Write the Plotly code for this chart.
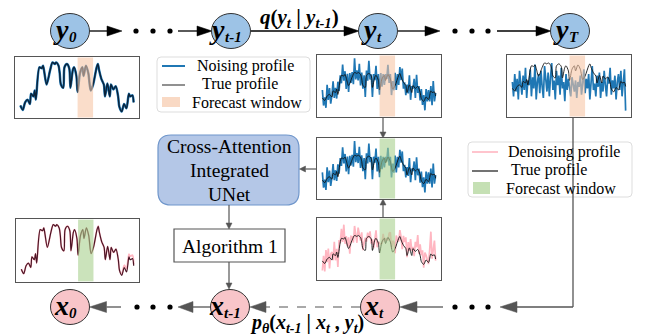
import plotly.graph_objects as go

# ---------------- data ----------------
hours_key = [0, 2, 4, 6, 8, 9, 11, 12, 13, 16, 18, 19, 20, 22, 25, 27, 29, 30, 32, 33,
             34, 36, 37, 39, 41, 42, 44, 45, 47, 48, 50, 52, 53, 55, 57, 59, 61, 64, 65, 66,
             68, 70, 71, 73, 75, 76, 78, 80, 82, 83, 85, 87, 89, 91, 92, 94, 95]
true_profile = [.15, .07, .21, .26, .18, .37, .32, .43, .26, .86, .84, .89, .78, .54, .81, .95, .92, .95, .89, .75,
                .54, .48, .86, .92, .84, .48, .81, .86, .70, .40, .75, .86, .70, .89, .75, .43, .54, .86, .92, .81,
                .64, .54, .32, .56, .32, .54, .45, .51, .32, .13, .04, .18, .10, .37, .32, .34, .21]
denoised_final = [.15, .07, .21, .26, .18, .37, .32, .43, .26, .86, .84, .89, .78, .54, .81, .95, .92, .95, .89, .75,
                  .54, .48, .86, .92, .84, .48, .81, .86, .70, .40, .75, .86, .70, .89, .75, .43, .54, .86, .92, .81,
                  .64, .54, .32, .56, .32, .54, .45, .51, .32, .13, .06, .22, .16, .42, .38, .40, .24]

hours = list(range(96))
noising_t = [.40, -.09, .17, -.16, .56, .09, .46, -.03, .23, .67, .15, .47, .13, .66, .36, .86, .61, 1.20, .69, .99,
             .43, .91, .34, .93, .62, .96, .58, 1.40, .73, 1.02, .70, 1.22, .54, .95, .44, .86, .18, 1.01, .69, 1.32,
             .73, .89, .18, .90, .71, 1.16, .43, .90, .25, .93, .50, .90, .56, .90, .75, 1.19, .62, .90, .24, .68,
             .39, .94, .40, .90, .56, 1.12, .71, 1.07, .44, .64, .24, .57, .29, .86, .09, .52, .44, .75, .15, .88,
             .31, .52, .07, .43, -.07, .24, -.24, .43, .04, .40, .04, .52, -.08, .68, .04, .31]
noising_T = [.35, -.1, .6, .05, .45, -.2, .7, .2, -.05, .55, .1, .8, -.15, .4, .25, .75, -.1, .5, .15, .9,
             -.2, .35, .6, 0, .7, .2, -.15, .85, .3, .05, .65, -.1, .5, .95, .1, .4, -.2, .7, .25, .55,
             -.05, .8, .15, .35, -.25, .6, .1, .45, .2, -.1, .5, .3, .05, .4, -.15, .35, .2, .55, -.05, .3,
             .75, 0, .45, .15, .6, -.2, .4, .85, .1, .3, -.1, .55, .2, .65, -.15, .35, .05, .7, .25, -.1,
             .5, .3, .8, -.05, .4, .15, .55, -.2, .35, .6, .1, .7, -.1, .45, .75, -.55]
denoising = [-.15, .31, -.18, .49, .11, .54, -.09, .37, .43, .17, .75, .17, .53, -.04, .81, .71, 1.16, .75, 1.29, .69,
             .93, .61, .89, .38, .92, .91, .73, 1.25, .98, .72, 1.20, 1.02, .79, 1.05, .49, .71, .88, .76, 1.04, .87,
             1.08, .69, .83, .55, .91, 1.11, .58, .75, .70, .68, .70, 1.00, .76, .85, .85, .79, 1.02, 1.05, .54, .78,
             .74, .39, .95, .80, .76, 1.12, .91, .52, .94, .74, .89, .27, .74, .46, .84, .47, .59, .30, .75, .58,
             .96, .37, .67, .33, .48, -.06, .41, .33, .19, .05, .49, 1.07, .22, .63, .79, .16]
forecast_window = [48, 61]

# ---------------- styles ----------------
W, H = 646, 335
BLUE = "#1f77b4"
PINK = "#ffb6c1"
PEACH = "#f7c7a6"
GREEN = "#a9d08e"
GRAY = "#555555"
SERIF = "Liberation Serif"

fig = go.Figure()

fig.add_trace(go.Scatter(x=[0, W], y=[0, H], mode="markers", marker=dict(opacity=0),
                         hoverinfo="skip", showlegend=False, xaxis="x", yaxis="y"))
layout = dict(
    width=W, height=H, margin=dict(l=0, r=0, t=0, b=0),
    paper_bgcolor="white", plot_bgcolor="rgba(0,0,0,0)", showlegend=False,
    xaxis=dict(range=[0, W], domain=[0, 1], visible=False, fixedrange=True),
    yaxis=dict(range=[H, 0], domain=[0, 1], visible=False, fixedrange=True),
)

shapes = []
annotations = []

# ---------- mini plots ----------
def mini(idx, box, yrange, traces, wincolor):
    x0, y0, x1, y1 = box
    ax = dict(domain=[x0 / W, x1 / W], range=[-4.5, 99.5], showticklabels=False, showgrid=False,
              zeroline=False, showline=True, mirror=True, linecolor=GRAY, linewidth=1.2,
              ticks="", fixedrange=True, anchor=f"y{idx}")
    ay = dict(domain=[1 - y1 / H, 1 - y0 / H], range=yrange, showticklabels=False, showgrid=False,
              zeroline=False, showline=True, mirror=True, linecolor=GRAY, linewidth=1.2,
              ticks="", fixedrange=True, anchor=f"x{idx}")
    layout[f"xaxis{idx}"] = ax
    layout[f"yaxis{idx}"] = ay
    for (xs, ys, color, width, shape) in traces:
        fig.add_trace(go.Scatter(x=xs, y=ys, mode="lines",
                                 line=dict(color=color, width=width, shape=shape, smoothing=0.8),
                                 xaxis=f"x{idx}", yaxis=f"y{idx}", showlegend=False, hoverinfo="skip"))
    shapes.append(dict(type="rect", xref=f"x{idx}", yref=f"y{idx} domain",
                       x0=forecast_window[0], x1=forecast_window[1], y0=0.01, y1=0.99,
                       fillcolor=wincolor, opacity=0.6, line=dict(width=0), layer="above"))

mini(2, (15, 57, 139, 118), [-0.08, 1.05],
     [(hours_key, true_profile, BLUE, 2.5, "spline"), (hours_key, true_profile, "#0b2238", 1.4, "spline")], PEACH)
mini(3, (317, 55, 441, 117), [-0.45, 1.5],
     [(hours, noising_t, BLUE, 1.7, "linear"), (hours_key, true_profile, "#111111", 0.9, "spline")], PEACH)
mini(4, (507, 55, 631, 117), [-0.75, 1.2],
     [(hours, noising_T, BLUE, 1.7, "linear"), (hours_key, true_profile, "#111111", 0.9, "spline")], PEACH)
mini(5, (317, 138, 441, 199), [-0.45, 1.5],
     [(hours, noising_t, BLUE, 1.7, "linear"), (hours_key, true_profile, "#111111", 0.9, "spline")], GREEN)
mini(6, (317, 218, 441, 280), [-0.45, 1.5],
     [(hours, denoising, PINK, 1.7, "linear"), (hours_key, true_profile, "#111111", 0.9, "spline")], GREEN)
mini(7, (16, 219, 139, 282), [-0.08, 1.05],
     [(hours_key, denoised_final, PINK, 1.8, "spline"), (hours_key, true_profile, "#4a1525", 1.2, "spline")], GREEN)

# ---------- helpers ----------
def arrow(x0, y0, x1, y1, color="black", width=1.3, hl=15, hw=5, dash="solid"):
    dx, dy = x1 - x0, y1 - y0
    L = (dx * dx + dy * dy) ** 0.5
    ux, uy = dx / L, dy / L
    bx, by = x1 - hl * ux, y1 - hl * uy
    shapes.append(dict(type="line", xref="x", yref="y", x0=x0, y0=y0, x1=bx, y1=by,
                       line=dict(color=color, width=width, dash=dash)))
    px, py = -uy, ux
    path = (f"M {x1},{y1} L {bx + hw * px},{by + hw * py} "
            f"L {bx - hw * px},{by - hw * py} Z")
    shapes.append(dict(type="path", xref="x", yref="y", path=path, fillcolor=color,
                       line=dict(color=color, width=0.5)))

def dots(xs, y, color="black"):
    for x in xs:
        shapes.append(dict(type="circle", xref="x", yref="y", x0=x - 2.6, x1=x + 2.6,
                           y0=y - 2.6, y1=y + 2.6, fillcolor=color, line=dict(width=0)))

def node(cx, cy, fill, letter, sub):
    shapes.append(dict(type="circle", xref="x", yref="y", x0=cx - 19.5, x1=cx + 19.5,
                       y0=cy - 17.5, y1=cy + 17.5, fillcolor=fill, line=dict(color="#333333", width=1)))
    lw = 13.5
    sw = 6.0 * len(sub) if sub != "t-1" else 16
    join = cx - (lw + sw) / 2 + 8.5
    annotations.append(dict(x=join, y=cy - 2, xref="x", yref="y", text=f"<b><i>{letter}</i></b>",
                            showarrow=False, font=dict(family=SERIF, size=28, color="black"),
                            xanchor="right", yanchor="middle", borderpad=0, xshift=1))
    annotations.append(dict(x=join, y=cy + 6, xref="x", yref="y", text=f"<b><i>{sub}</i></b>",
                            showarrow=False, font=dict(family=SERIF, size=15, color="black"),
                            xanchor="left", yanchor="middle", borderpad=0, xshift=-1))

def text(x, y, s, size=15, anchor="left", color="black"):
    annotations.append(dict(x=x, y=y, xref="x", yref="y", text=s, showarrow=False,
                            font=dict(family=SERIF, size=size, color=color),
                            xanchor=anchor, yanchor="middle"))

def rrect(x0, y0, x1, y1, r, fill, line, lw=1):
    path = (f"M {x0 + r},{y0} L {x1 - r},{y0} Q {x1},{y0} {x1},{y0 + r} L {x1},{y1 - r} "
            f"Q {x1},{y1} {x1 - r},{y1} L {x0 + r},{y1} Q {x0},{y1} {x0},{y1 - r} "
            f"L {x0},{y0 + r} Q {x0},{y0} {x0 + r},{y0} Z")
    shapes.append(dict(type="path", xref="x", yref="y", path=path, fillcolor=fill,
                       line=dict(color=line, width=lw), layer="below"))

# ---------- top row (forward noising) ----------
arrow(89, 31, 122, 31)
dots([136, 153, 170], 31)
arrow(178, 31, 212, 31)
arrow(251, 31, 359, 31)
arrow(398, 31, 440, 31)
dots([455, 472, 488], 31)
arrow(497, 31, 551, 31)

node(70, 31, "#9dc3e6", "y", "0")
node(231, 31, "#9dc3e6", "y", "t-1")
node(378, 31, "#9dc3e6", "y", "t")
node(570, 31, "#9dc3e6", "y", "T")

text(299, 18, "<b><i>q</i>(<i>y<sub>t</sub></i> | <i>y<sub>t-1</sub></i>)</b>", size=21, anchor="center")

# ---------- middle connections ----------
arrow(383, 117, 383, 138, color=GRAY, width=1.2, hl=6, hw=3)
arrow(383, 218, 383, 199, color=GRAY, width=1.2, hl=6, hw=3)
arrow(317, 169, 299.5, 169, color=GRAY, width=1.2, hl=6, hw=3)
arrow(229, 205, 229, 229, color=GRAY, width=1.2, hl=6, hw=3)
arrow(229, 262, 229, 289, color=GRAY, width=1.2, hl=6, hw=3)

rrect(158, 135, 299, 205, 13, "#b4c7e7", "#6f96cb", 1.2)
text(229, 146, "Cross-Attention", size=19.5, anchor="center")
text(229, 170, "Integrated", size=19.5, anchor="center")
text(229, 194, "UNet", size=19.5, anchor="center")

shapes.append(dict(type="rect", xref="x", yref="y", x0=174, x1=285, y0=229, y1=262,
                   fillcolor="white", line=dict(color=GRAY, width=1.2)))
text(229.5, 246, "Algorithm 1", size=19.5, anchor="center")

# ---------- bottom row (reverse denoising) ----------
shapes.append(dict(type="line", xref="x", yref="y", x0=573, y0=117, x1=573, y1=307,
                   line=dict(color=GRAY, width=1.3)))
arrow(573, 307, 500, 307, color=GRAY, width=1.3, hl=17, hw=5.5)
dots([455, 472, 488], 307)
arrow(443, 307, 400, 307, color=GRAY, width=1.3, hl=17, hw=5.5)
arrow(360, 307, 250, 307, color=GRAY, width=1.2, hl=16, hw=5.5, dash="dash")
arrow(211, 307, 178, 307, color=GRAY, width=1.3, hl=15, hw=5.5)
dots([137, 153, 170], 307)
arrow(121, 307, 89.5, 307, color=GRAY, width=1.3, hl=17, hw=5.5)

node(70, 307, "#f8c5c9", "x", "0")
node(230, 307, "#f8c5c9", "x", "t-1")
node(380, 307, "#f8c5c9", "x", "t")

text(307, 323, "<b><i>p<sub>θ</sub></i>(<i>x<sub>t-1</sub></i> | <i>x<sub>t</sub></i> , <i>y<sub>t</sub></i>)</b>",
     size=20, anchor="center")

# ---------- legends ----------
rrect(157, 57, 310, 112, 4, "white", "#dddddd", 1)
shapes.append(dict(type="line", xref="x", yref="y", x0=162, x1=185, y0=66, y1=66,
                   line=dict(color=BLUE, width=2)))
text(195, 66, "Noising profile", size=16)
shapes.append(dict(type="line", xref="x", yref="y", x0=162, x1=185, y0=85, y1=85,
                   line=dict(color=GRAY, width=1.3)))
text(200, 84, "True profile", size=16)
shapes.append(dict(type="rect", xref="x", yref="y", x0=162, x1=180, y0=97, y1=107,
                   fillcolor="#f9d9c4", line=dict(width=0)))
text(190, 102, "Forecast window", size=16)

rrect(468, 142, 632, 197, 4, "white", "#dddddd", 1)
shapes.append(dict(type="line", xref="x", yref="y", x0=472, x1=498, y0=152, y1=152,
                   line=dict(color=PINK, width=1.6)))
text(506, 152, "Denoising profile", size=16)
shapes.append(dict(type="line", xref="x", yref="y", x0=472, x1=498, y0=171, y1=171,
                   line=dict(color="black", width=1.1)))
text(509, 170, "True profile", size=16)
shapes.append(dict(type="rect", xref="x", yref="y", x0=473, x1=490, y0=182, y1=194,
                   fillcolor="#c5e0b4", line=dict(width=0)))
text(504, 188, "Forecast window", size=16)

layout["shapes"] = shapes
layout["annotations"] = annotations
fig.update_layout(**layout)
fig.write_html("out.html")
